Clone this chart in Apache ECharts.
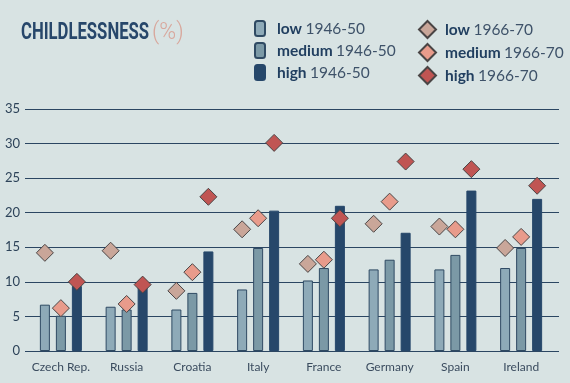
<!DOCTYPE html>
<html>
<head>
<meta charset="utf-8">
<script src="https://cdn.jsdelivr.net/npm/echarts@6/dist/echarts.min.js"></script>
<style>
html,body{margin:0;padding:0;background:#d8e3e3;}
#c{width:570px;height:383px;}
</style>
</head>
<body>
<div id="c"></div>
<script>
var categories = ['Czech Rep.', 'Russia', 'Croatia', 'Italy', 'France', 'Germany', 'Spain', 'Ireland'];
var yTicks = [0, 5, 10, 15, 20, 25, 30, 35];
var low4650 = [6.7, 6.4, 6.0, 8.9, 10.2, 11.8, 11.8, 12.0];
var medium4650 = [5.1, 6.0, 8.4, 14.9, 12.0, 13.2, 13.9, 14.9];
var high4650 = [9.4, 9.3, 14.4, 20.3, 21.0, 17.1, 23.2, 22.0];
var low6670 = [14.2, 14.5, 8.7, 17.6, 12.6, 18.4, 18.0, 14.9];
var medium6670 = [6.2, 6.8, 11.4, 19.2, 13.2, 21.6, 17.6, 16.5];
var high6670 = [10.0, 9.6, 22.3, 30.1, 19.2, 27.4, 26.3, 23.9];

var chart = echarts.init(document.getElementById('c'));
var navy = '#26476a';
function fmt(name){
  var p = name.split(' ');
  return '{b|' + p[0] + '} {r|' + p[1] + '}';
}
var rich = {
  b: {fontFamily: 'Lato', fontWeight: 'bold', fontSize: 15.5, color: '#213f60'},
  r: {fontFamily: 'Lato', fontSize: 15.5, color: '#3e5269'}
};
function barSeries(name, data, color, border){
  return {
    name: name, type: 'bar', xAxisIndex: 0, yAxisIndex: 0,
    data: data, barWidth: 10, barGap: '60%',
    itemStyle: {color: color, borderColor: border, borderWidth: 1},
    z: 2
  };
}
function dia(name, data, color, off){
  return {
    name: name, type: 'scatter', xAxisIndex: 0, yAxisIndex: 0,
    data: data, symbol: 'diamond', symbolSize: 17, symbolOffset: [off, 0],
    itemStyle: {color: color, borderColor: '#4a4545', borderWidth: 1, opacity: 1},
    z: 5
  };
}
chart.setOption({
  backgroundColor: '#d8e3e3',
  animation: false,
  graphic: [
    {type: 'text', x: 21, y: 21, scaleX: 0.695, style: {text: 'CHILDLESSNESS', fontFamily: 'Roboto', fontWeight: 'bold', fontSize: 24, fill: '#27476b'}},
    {type: 'text', x: 152, y: 21, scaleX: 0.95, style: {text: '(%)', fontFamily: 'Roboto', fontWeight: 300, fontSize: 24, fill: '#d8a79c'}}
  ],
  legend: [
    {
      data: ['low 1946-50', 'medium 1946-50', 'high 1946-50'],
      orient: 'vertical', left: 254, top: 20, padding: 0, itemWidth: 10, itemHeight: 15, itemGap: 5,
      formatter: fmt, textStyle: {rich: rich, padding: [0, 0, 0, 7]}, selectedMode: false
    },
    {
      data: ['low 1966-70', 'medium 1966-70', 'high 1966-70'],
      orient: 'vertical', left: 418, top: 20, padding: 0, itemWidth: 17, itemHeight: 17, itemGap: 4, icon: 'diamond',
      formatter: fmt, textStyle: {rich: rich, padding: [0, 0, 0, 4]}, selectedMode: false
    }
  ],
  grid: [
    {left: 28, right: 16, top: 109, bottom: 32},
    {left: 25, right: 11, top: 109, bottom: 32}
  ],
  xAxis: [
    {type: 'category', gridIndex: 0, data: categories,
     axisLine: {show: false}, axisTick: {show: false},
     axisLabel: {interval: 0, fontFamily: 'Lato', fontSize: 12, color: '#3b4c5f', margin: 10}},
    {type: 'value', gridIndex: 1, show: false, min: 0, max: 1}
  ],
  yAxis: [
    {type: 'value', gridIndex: 0, min: 0, max: 35, show: false},
    {type: 'value', gridIndex: 1, min: yTicks[0], max: yTicks[yTicks.length - 1], interval: 5,
     axisLine: {show: false}, axisTick: {show: false},
     axisLabel: {fontFamily: 'Lato', fontSize: 13, color: '#2d4359', margin: 5},
     splitLine: {show: true, lineStyle: {color: '#2b4662', width: 1}}}
  ],
  series: [
    barSeries('low 1946-50', low4650, '#8eaab8', '#2f4a63'),
    barSeries('medium 1946-50', medium4650, '#7b99a6', '#2f4a63'),
    barSeries('high 1946-50', high4650, navy, navy),
    dia('low 1966-70', low6670, '#c9a699', -16),
    dia('medium 1966-70', medium6670, '#e89b8b', 0),
    dia('high 1966-70', high6670, '#c05553', 16)
  ]
});
</script>
</body>
</html>
